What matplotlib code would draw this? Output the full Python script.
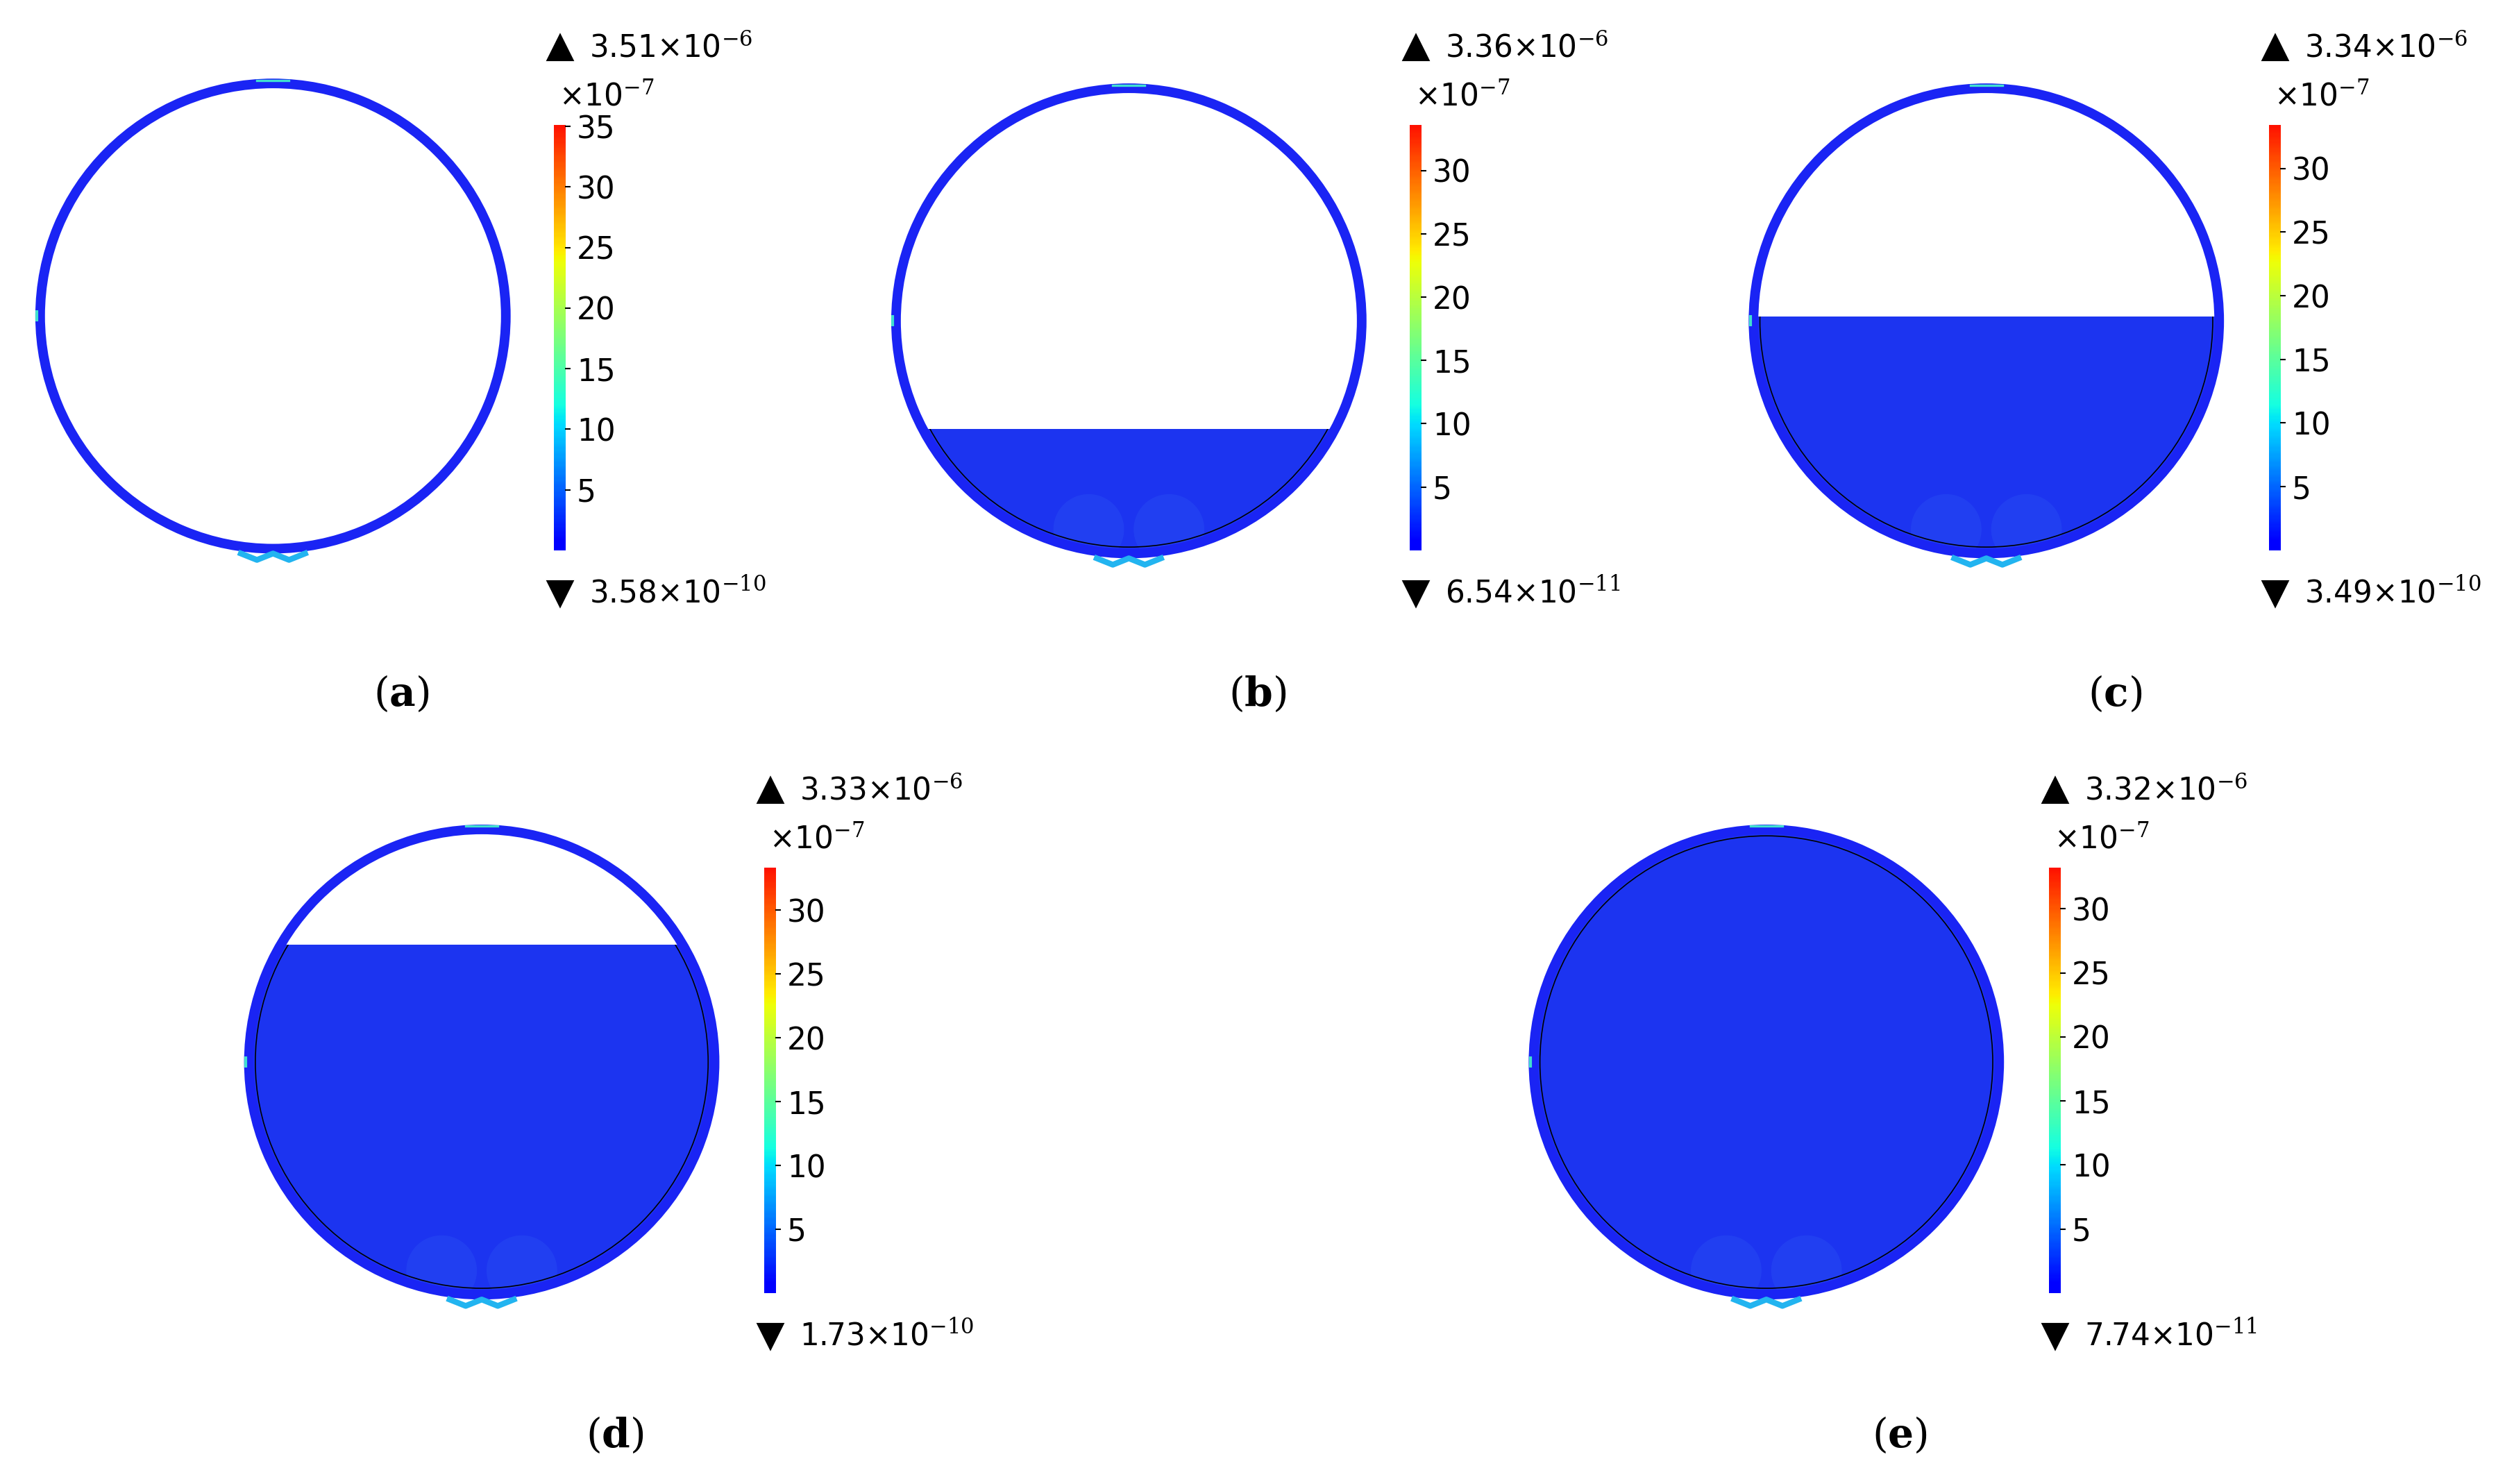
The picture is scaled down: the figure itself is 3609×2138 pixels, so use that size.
import numpy as np
import matplotlib
matplotlib.use("Agg")
import matplotlib.pyplot as plt
from matplotlib.patches import Circle, Rectangle, Wedge
from matplotlib.colors import LinearSegmentedColormap

# panel data
labels = ["a", "b", "c", "d", "e"]
max_mant = ["3.51", "3.36", "3.34", "3.33", "3.32"]
min_mant = ["3.58", "6.54", "3.49", "1.73", "7.74"]
min_exp = ["-10", "-11", "-10", "-10", "-11"]
cbar_max = [35.1, 33.6, 33.4, 33.3, 33.2]
cbar_ticks = [[5, 10, 15, 20, 25, 30, 35]] + [[5, 10, 15, 20, 25, 30]] * 4
fill_frac = [0.0, 0.27, 0.51, 0.75, 1.0]  # liquid height / diameter

# layout in reference pixels (1560 x 925 frame)
centers = [(170, 197), (703, 200), (1237, 200), (300, 662), (1100, 662)]
radius = 146
cbar_x = [345, 878, 1413, 476, 1276]
cbar_top = [78, 78, 78, 541, 541]
cbar_bot = [343, 343, 343, 806, 806]
cap_pos = [(250, 433), (783, 433), (1317, 433), (383, 895), (1183, 895)]

plt.rcParams["mathtext.fontset"] = "dejavuserif"

W, H = 1560, 925
fig = plt.figure(figsize=(3609 / 300, 2138 / 300), dpi=300)
ax = fig.add_axes([0, 0, 1, 1])
ax.set_xlim(0, W)
ax.set_ylim(H, 0)
ax.axis("off")

shell_col = "#1a24f4"
fill_col = "#1c34f0"
jet = plt.get_cmap("jet")
cmap = LinearSegmentedColormap.from_list("rb", jet(np.linspace(0.11, 0.89, 256)))

for i in range(5):
    cx, cy = centers[i]
    # liquid
    if fill_frac[i] > 0:
        top = cy + radius - 2 * radius * fill_frac[i]
        clip = Rectangle((cx - radius - 5, top), 2 * radius + 10, cy + radius - top + 10,
                         transform=ax.transData)
        disk = Circle((cx, cy), radius - 2, facecolor=fill_col, edgecolor="none", zorder=1)
        ax.add_patch(disk)
        disk.set_clip_path(clip)
        inner = Circle((cx, cy), radius - 3, transform=ax.transData)
        for dx in (-25, 25):
            spot = Circle((cx + dx, cy + radius - 16), 22, facecolor="#2c55f4",
                          edgecolor="none", alpha=0.35, zorder=1.5)
            ax.add_patch(spot)
            spot.set_clip_path(inner)
        ring = Circle((cx, cy), radius - 5, facecolor="none", edgecolor="black", lw=0.4, zorder=3)
        ax.add_patch(ring)
        ring.set_clip_path(clip)
    # shell
    ax.add_patch(Wedge((cx, cy), radius + 2, 0, 360, width=6, facecolor=shell_col,
                       edgecolor="none", zorder=2))
    # small light features at top, side and bottom
    ax.plot([cx - 10, cx + 10], [cy - radius - 1, cy - radius - 1], color="#40e0d0", lw=0.8, zorder=3)
    ax.plot([cx - radius - 1], [cy], marker="|", color="#40e0d0", ms=4, zorder=3)
    bx = np.array([-20, -10, 0, 10, 20])
    by = np.array([2, 6, 2, 6, 2])
    ax.plot(cx + bx, cy + radius + by, color="#22b4f0", lw=2.0, zorder=4)

    # colorbar
    x0 = cbar_x[i]
    cax = fig.add_axes([x0 / W, 1 - cbar_bot[i] / H, 7 / W, (cbar_bot[i] - cbar_top[i]) / H])
    grad = np.linspace(0, cbar_max[i], 256).reshape(-1, 1)
    cax.imshow(grad, aspect="auto", cmap=cmap, origin="lower",
               extent=[0, 1, 0, cbar_max[i]])
    cax.set_xticks([])
    cax.yaxis.tick_right()
    cax.set_yticks(cbar_ticks[i])
    cax.set_yticklabels([str(t) for t in cbar_ticks[i]], fontsize=10.5)
    cax.tick_params(axis="y", length=2, width=0.5, pad=2)
    for s in cax.spines.values():
        s.set_visible(False)

    ax.text(x0 + 3, cbar_top[i] - 8, "×10$^{-7}$", fontsize=10.5, ha="left", va="bottom")
    ax.plot(x0 + 4, cbar_top[i] - 48, marker="^", color="black", ms=8)
    ax.text(x0 + 22, cbar_top[i] - 48, f"{max_mant[i]}×10$^{{-6}}$", fontsize=10.5,
            ha="left", va="center")
    ax.plot(x0 + 4, cbar_bot[i] + 27, marker="v", color="black", ms=8)
    ax.text(x0 + 22, cbar_bot[i] + 27, f"{min_mant[i]}×10$^{{{min_exp[i]}}}$", fontsize=10.5,
            ha="left", va="center")

    # caption
    px, py = cap_pos[i]
    ax.text(px, py, r"($\mathbf{" + labels[i] + "}$)", fontsize=14,
            ha="center", va="center", family="DejaVu Serif")

fig.savefig("out.png", dpi=300)
